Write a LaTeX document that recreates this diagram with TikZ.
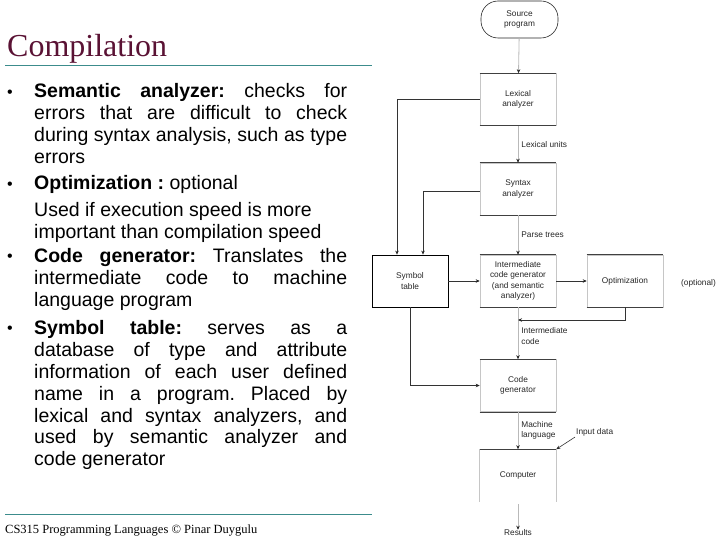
\documentclass[tikz,border=0pt]{standalone}
\usepackage{fontspec}
\setmainfont{Liberation Sans}
\newfontfamily\serifft{Liberation Serif}
\usetikzlibrary{arrows.meta}
\definecolor{titlecol}{RGB}{90,18,52}
\definecolor{rulecol}{RGB}{60,140,140}
\newcommand\bodyfont{\fontsize{19.5}{22}\selectfont\frenchspacing}
\newcommand\diafont{\fontsize{8.3}{10.5}\selectfont}
\newcommand\jline[3]{\node[bodyline] (#1) at (34,#2) {\makebox[313pt][s]{#3}};}
\newcommand\rline[3]{\node[bodyline] (#1) at (34,#2) {#3};}
\newcommand\bul[2]{\node[anchor=base west, inner sep=0pt, font=\fontsize{16}{16}\selectfont, yshift=0.5pt] (#1) at (7,#2) {\textbullet};}
\begin{document}
\begin{tikzpicture}[x=1pt,y=-1pt,
  bodyline/.style={anchor=base west, inner sep=0pt, font=\bodyfont},
  blk/.style={minimum width=76pt, minimum height=52pt, inner sep=1pt, align=center,
    font=\diafont, text=black!85, draw=gray!45, line width=0.6pt},
  lbl/.style={font=\diafont, text=black!85, anchor=west, inner sep=0pt, align=left},
  tip/.style={-{Stealth[length=4pt,width=3.5pt,color=black!85]}},
  flow/.style={tip, draw=gray!55, line width=0.8pt},
  link/.style={tip, draw=black!80, line width=0.6pt},
  edgeline/.style={draw=black!75, line width=0.6pt}
]
\useasboundingbox (0,0) rectangle (720,540);

% title and rules
\node[anchor=base west, inner sep=0pt, font=\serifft\fontsize{32}{34}\selectfont, text=titlecol] (title) at (7,57) {Compilation};
\draw[rulecol, line width=0.8pt] (5,65) -- (372,65);
\draw[rulecol, line width=0.8pt] (5,514) -- (372,514);
\node[anchor=base west, inner sep=0pt, font=\serifft\fontsize{12.5}{14}\selectfont] (foot) at (5,533) {CS315 Programming Languages \textcopyright{} Pinar Duygulu};

% body text
\bul{b1}{98}
\jline{l1}{98}{\textbf{Semantic analyzer:} checks for}
\jline{l2}{120}{errors that are difficult to check}
\jline{l3}{142}{during syntax analysis, such as type}
\rline{l4}{164}{errors}
\bul{b2}{190}
\rline{l5}{190}{\textbf{Optimization :} optional}
\rline{l6}{216}{Used if execution speed is more}
\rline{l7}{238}{important than compilation speed}
\bul{b3}{262}
\jline{l8}{262}{\textbf{Code generator:} Translates the}
\jline{l9}{284}{intermediate code to machine}
\rline{l10}{306}{language program}
\bul{b4}{334}
\jline{l11}{334}{\textbf{Symbol table:} serves as a}
\jline{l12}{356}{database of type and attribute}
\jline{l13}{378}{information of each user defined}
\jline{l14}{400}{name in a program. Placed by}
\jline{l15}{422}{lexical and syntax analyzers, and}
\jline{l16}{443}{used by semantic analyzer and}
\rline{l17}{465}{code generator}

% diagram
\node[blk, draw=black!85, rounded corners=17pt, minimum width=77pt, minimum height=37pt] (src) at (519.5,19.5) {Source\\program};
\node[blk] (lex) at (518,99.5) {Lexical\\analyzer};
\node[blk] (syn) at (518,189) {Syntax\\analyzer};
\node[blk] (icg) at (518,281) {Intermediate\\code generator\\(and semantic\\analyzer)};
\node[blk, draw=black, line width=0.8pt] (sym) at (410,281) {Symbol\\table};
\node[blk] (opt) at (625,281) {Optimization};
\node[blk] (cg) at (518,385.5) {Code\\generator};
\node[blk, draw=none] (comp) at (518,475.5) {Computer};
\foreach \n in {lex,syn,icg,opt,cg}{
  \draw[edgeline] (\n.north west) -- (\n.north east) (\n.south west) -- (\n.south east);
}
\draw[draw=gray!45, line width=0.6pt] (comp.south west) -- (comp.north west) (comp.south east) -- (comp.north east);
\draw[edgeline] (comp.north west) -- (comp.north east);

\node[lbl] (optl) at (681,283) {(optional)};
\node[lbl] (res) at (518,533) [anchor=center] {Results};
\node[lbl] (ind) at (576,432) {Input data};

\draw[flow] (src) -- (lex);
\draw[flow] (lex) -- node[lbl, pos=0.5, right=3pt] (lu) {Lexical units} (syn);
\draw[flow] (syn) -- node[lbl, pos=0.5, right=3pt] (pt) {Parse trees} (icg);
\draw[flow] (icg) -- node[lbl, pos=0.55, right=3pt] (ic) {Intermediate\\code} (cg);
\draw[flow] (cg) -- node[lbl, pos=0.5, right=3pt] (ml) {Machine\\language} (comp);
\coordinate (compout) at (518,504);
\draw[flow] (compout) -- (res);

\draw[link] (lex.west) -| ([xshift=-13pt]sym.north);
\draw[link] ([yshift=-2pt]syn.west) -| ([xshift=13pt]sym.north);
\draw[link] (sym) -- (icg);
\draw[link] (icg) -- (opt);
\coordinate (fb) at (518,320);
\draw[link] (opt.south) |- (fb);
\draw[link] (sym.south) |- (cg.west);
\draw[link] ([xshift=-1pt,yshift=-1pt]ind.south west) -- (comp.north east);
\end{tikzpicture}
\end{document}
